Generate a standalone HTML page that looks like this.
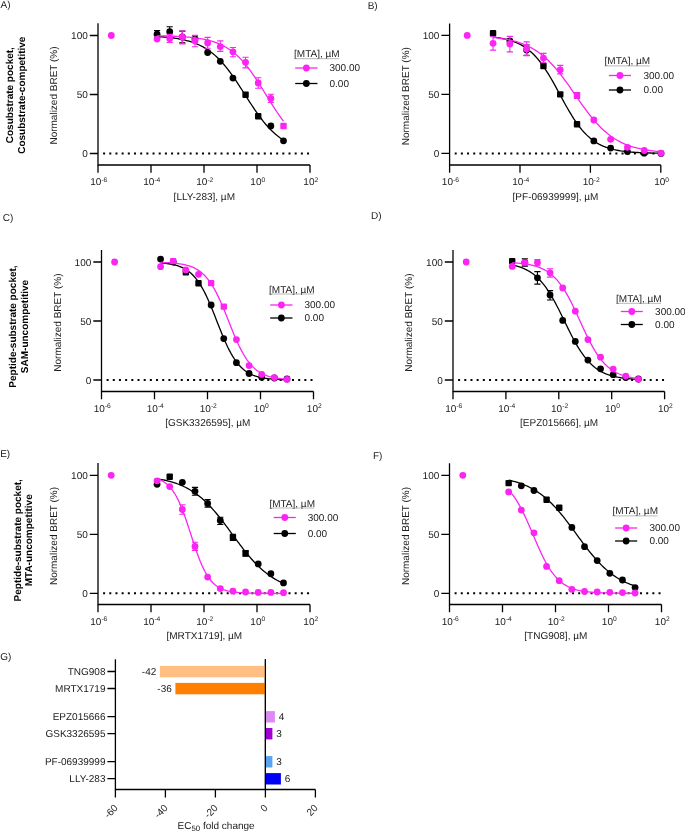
<!DOCTYPE html>
<html><head><meta charset="utf-8"><style>
html,body{margin:0;padding:0;background:#fff;}
svg{display:block;will-change:transform;text-rendering:geometricPrecision;}
.t{font-family:"Liberation Sans",sans-serif;font-size:10px;fill:#1a1a1a;}
.b{font-family:"Liberation Sans",sans-serif;font-size:10px;font-weight:bold;fill:#000;}
</style></head><body>
<svg width="685" height="831" viewBox="0 0 685 831">
<rect width="685" height="831" fill="#fff"/>
<path d="M98,23.2V165H310" fill="none" stroke="#000" stroke-width="1.3"/>
<text x="87.8" y="39.1" text-anchor="end" class="t">100</text>
<text x="87.8" y="98.1" text-anchor="end" class="t">50</text>
<text x="87.8" y="157.1" text-anchor="end" class="t">0</text>
<path d="M89.8,35.5H98M89.8,94.5H98M89.8,153.5H98" stroke="#000" stroke-width="1.3"/>
<text x="98.8" y="185.1" text-anchor="middle" class="t">10<tspan dy="-3.3" font-size="6.7">-6</tspan></text>
<text x="151.8" y="185.1" text-anchor="middle" class="t">10<tspan dy="-3.3" font-size="6.7">-4</tspan></text>
<text x="204.8" y="185.1" text-anchor="middle" class="t">10<tspan dy="-3.3" font-size="6.7">-2</tspan></text>
<text x="257.8" y="185.1" text-anchor="middle" class="t">10<tspan dy="-3.3" font-size="6.7">0</tspan></text>
<text x="310.8" y="185.1" text-anchor="middle" class="t">10<tspan dy="-3.3" font-size="6.7">2</tspan></text>
<path d="M98,165V172.7M151,165V172.7M204,165V172.7M257,165V172.7M310,165V172.7" stroke="#000" stroke-width="1.3"/>
<path d="M103.1,153.5H309.4" stroke="#000" stroke-width="2" stroke-dasharray="2 4.18"/>
<text x="204.3" y="199.9" text-anchor="middle" class="t">[LLY-283], µM</text>
<text transform="translate(57.3,95.5) rotate(-90)" text-anchor="middle" class="t">Normalized BRET (%)</text>
<circle cx="111.3" cy="35.5" r="3.4" fill="#fc24f2"/>
<path d="M157.06,36.58 L158.66,36.67 L160.26,36.78 L161.86,36.89 L163.46,37.01 L165.07,37.14 L166.67,37.29 L168.27,37.45 L169.87,37.62 L171.47,37.8 L173.07,38 L174.67,38.22 L176.27,38.46 L177.87,38.71 L179.47,38.99 L181.07,39.29 L182.67,39.62 L184.27,39.97 L185.87,40.35 L187.47,40.77 L189.07,41.21 L190.67,41.7 L192.27,42.22 L193.87,42.78 L195.47,43.38 L197.07,44.04 L198.68,44.74 L200.28,45.49 L201.88,46.3 L203.48,47.17 L205.08,48.1 L206.68,49.09 L208.28,50.15 L209.88,51.28 L211.48,52.49 L213.08,53.76 L214.68,55.12 L216.28,56.56 L217.88,58.08 L219.48,59.68 L221.08,61.36 L222.68,63.13 L224.28,64.97 L225.88,66.9 L227.48,68.91 L229.08,70.99 L230.68,73.14 L232.28,75.36 L233.89,77.65 L235.49,79.99 L237.09,82.38 L238.69,84.81 L240.29,87.28 L241.89,89.77 L243.49,92.28 L245.09,94.8 L246.69,97.31 L248.29,99.82 L249.89,102.31 L251.49,104.77 L253.09,107.19 L254.69,109.57 L256.29,111.9 L257.89,114.17 L259.49,116.37 L261.09,118.51 L262.69,120.57 L264.29,122.56 L265.89,124.47 L267.5,126.3 L269.1,128.05 L270.7,129.71 L272.3,131.29 L273.9,132.79 L275.5,134.21 L277.1,135.54 L278.7,136.81 L280.3,137.99 L281.9,139.11 L283.5,140.15" fill="none" stroke="#000" stroke-width="1.3"/>
<path d="M157.06,30.5V37.9M153.96,30.5H160.16M153.96,37.9H160.16M169.71,26.8V36.7M166.61,26.8H172.81M166.61,36.7H172.81M182.35,31.1V42.9M179.25,31.1H185.45M179.25,42.9H185.45" fill="none" stroke="#000" stroke-width="1.1"/>
<circle cx="157.06" cy="34.2" r="3.4" fill="#000"/>
<circle cx="169.71" cy="31.75" r="3.4" fill="#000"/>
<circle cx="182.35" cy="37" r="3.4" fill="#000"/>
<circle cx="194.99" cy="38.9" r="3.4" fill="#000"/>
<circle cx="207.64" cy="52.5" r="3.4" fill="#000"/>
<circle cx="220.28" cy="61.3" r="3.4" fill="#000"/>
<circle cx="232.93" cy="78.1" r="3.4" fill="#000"/>
<rect x="242.37" y="91.6" width="6.4" height="6.4" rx="1" fill="#000"/>
<rect x="255.01" y="113.1" width="6.4" height="6.4" rx="1" fill="#000"/>
<circle cx="270.86" cy="126" r="3.4" fill="#000"/>
<circle cx="283.5" cy="140.8" r="3.4" fill="#000"/>
<path d="M157.06,35.79 L158.66,35.82 L160.26,35.85 L161.86,35.88 L163.46,35.91 L165.07,35.95 L166.67,35.99 L168.27,36.04 L169.87,36.09 L171.47,36.14 L173.07,36.2 L174.67,36.27 L176.27,36.34 L177.87,36.41 L179.47,36.5 L181.07,36.59 L182.67,36.69 L184.27,36.8 L185.87,36.91 L187.47,37.04 L189.07,37.18 L190.67,37.34 L192.27,37.5 L193.87,37.68 L195.47,37.88 L197.07,38.1 L198.68,38.33 L200.28,38.59 L201.88,38.86 L203.48,39.16 L205.08,39.49 L206.68,39.85 L208.28,40.23 L209.88,40.65 L211.48,41.1 L213.08,41.59 L214.68,42.12 L216.28,42.7 L217.88,43.32 L219.48,43.99 L221.08,44.71 L222.68,45.49 L224.28,46.32 L225.88,47.22 L227.48,48.19 L229.08,49.22 L230.68,50.33 L232.28,51.52 L233.89,52.78 L235.49,54.12 L237.09,55.55 L238.69,57.06 L240.29,58.66 L241.89,60.35 L243.49,62.13 L245.09,63.99 L246.69,65.94 L248.29,67.98 L249.89,70.1 L251.49,72.3 L253.09,74.57 L254.69,76.91 L256.29,79.31 L257.89,81.77 L259.49,84.28 L261.09,86.82 L262.69,89.4 L264.29,91.99 L265.89,94.59 L267.5,97.2 L269.1,99.79 L270.7,102.36 L272.3,104.9 L273.9,107.41 L275.5,109.86 L277.1,112.26 L278.7,114.6 L280.3,116.86 L281.9,119.06 L283.5,121.17" fill="none" stroke="#fc24f2" stroke-width="1.3"/>
<path d="M169.71,34.4V42.4M166.61,34.4H172.81M166.61,42.4H172.81M182.35,31V43.9M179.25,31H185.45M179.25,43.9H185.45M194.99,35.4V46.8M191.89,35.4H198.09M191.89,46.8H198.09M207.64,37.4V48.3M204.54,37.4H210.74M204.54,48.3H210.74M220.28,40.9V51.4M217.18,40.9H223.38M217.18,51.4H223.38M232.93,47.5V56.7M229.83,47.5H236.03M229.83,56.7H236.03M245.57,57.3V67.9M242.47,57.3H248.67M242.47,67.9H248.67M258.21,77.7V88.2M255.11,77.7H261.31M255.11,88.2H261.31M270.86,94.3V102.5M267.76,94.3H273.96M267.76,102.5H273.96" fill="none" stroke="#fc24f2" stroke-width="1.1"/>
<circle cx="157.06" cy="39.1" r="3.4" fill="#fc24f2"/>
<circle cx="169.71" cy="38.4" r="3.4" fill="#fc24f2"/>
<circle cx="182.35" cy="37.1" r="3.4" fill="#fc24f2"/>
<circle cx="194.99" cy="40.9" r="3.4" fill="#fc24f2"/>
<circle cx="207.64" cy="42.9" r="3.4" fill="#fc24f2"/>
<circle cx="220.28" cy="46.6" r="3.4" fill="#fc24f2"/>
<circle cx="232.93" cy="51.8" r="3.4" fill="#fc24f2"/>
<circle cx="245.57" cy="62.3" r="3.4" fill="#fc24f2"/>
<circle cx="258.21" cy="83" r="3.4" fill="#fc24f2"/>
<circle cx="270.86" cy="98.4" r="3.4" fill="#fc24f2"/>
<rect x="280.3" y="122.8" width="6.4" height="6.4" rx="1" fill="#fc24f2"/>
<text x="294.1" y="57.2" class="t">[MTA], µM</text>
<path d="M294.1,58.7h45" stroke="#999" stroke-width="0.7"/>
<path d="M295.2,68H317.5" stroke="#fc24f2" stroke-width="1.3"/>
<circle cx="306.35" cy="68" r="3.4" fill="#fc24f2"/>
<text x="329.5" y="71.3" class="t">300.00</text>
<path d="M295.2,83.5H317.5" stroke="#000" stroke-width="1.3"/>
<circle cx="306.35" cy="83.5" r="3.4" fill="#000"/>
<text x="329.5" y="86.8" class="t">0.00</text>
<path d="M449.6,23.4V165H660.8" fill="none" stroke="#000" stroke-width="1.3"/>
<text x="439.4" y="39" text-anchor="end" class="t">100</text>
<text x="439.4" y="98" text-anchor="end" class="t">50</text>
<text x="439.4" y="157" text-anchor="end" class="t">0</text>
<path d="M441.4,35.4H449.6M441.4,94.4H449.6M441.4,153.4H449.6" stroke="#000" stroke-width="1.3"/>
<text x="450.4" y="185.1" text-anchor="middle" class="t">10<tspan dy="-3.3" font-size="6.7">-6</tspan></text>
<text x="520.8" y="185.1" text-anchor="middle" class="t">10<tspan dy="-3.3" font-size="6.7">-4</tspan></text>
<text x="591.2" y="185.1" text-anchor="middle" class="t">10<tspan dy="-3.3" font-size="6.7">-2</tspan></text>
<text x="661.6" y="185.1" text-anchor="middle" class="t">10<tspan dy="-3.3" font-size="6.7">0</tspan></text>
<path d="M449.6,165V172.7M520,165V172.7M590.4,165V172.7M660.8,165V172.7" stroke="#000" stroke-width="1.3"/>
<path d="M454.7,153.4H660" stroke="#000" stroke-width="2" stroke-dasharray="2 4.18"/>
<text x="555.5" y="199.9" text-anchor="middle" class="t">[PF-06939999], µM</text>
<text transform="translate(408.9,96.2) rotate(-90)" text-anchor="middle" class="t">Normalized BRET (%)</text>
<circle cx="467.2" cy="35.4" r="3.4" fill="#fc24f2"/>
<path d="M493.05,37.15 L495.18,37.39 L497.31,37.67 L499.43,37.99 L501.56,38.35 L503.68,38.76 L505.81,39.22 L507.93,39.75 L510.06,40.35 L512.19,41.02 L514.31,41.78 L516.44,42.63 L518.56,43.6 L520.69,44.68 L522.82,45.89 L524.94,47.23 L527.07,48.73 L529.19,50.4 L531.32,52.24 L533.45,54.26 L535.57,56.47 L537.7,58.89 L539.82,61.5 L541.95,64.32 L544.08,67.33 L546.2,70.54 L548.33,73.92 L550.45,77.47 L552.58,81.15 L554.7,84.94 L556.83,88.82 L558.96,92.75 L561.08,96.69 L563.21,100.61 L565.33,104.47 L567.46,108.25 L569.59,111.91 L571.71,115.43 L573.84,118.79 L575.96,121.96 L578.09,124.95 L580.22,127.73 L582.34,130.31 L584.47,132.7 L586.59,134.88 L588.72,136.87 L590.85,138.68 L592.97,140.32 L595.1,141.79 L597.22,143.12 L599.35,144.3 L601.47,145.36 L603.6,146.31 L605.73,147.15 L607.85,147.89 L609.98,148.56 L612.1,149.14 L614.23,149.66 L616.36,150.11 L618.48,150.51 L620.61,150.87 L622.73,151.18 L624.86,151.45 L626.99,151.69 L629.11,151.9 L631.24,152.09 L633.36,152.25 L635.49,152.39 L637.62,152.52 L639.74,152.63 L641.87,152.72 L643.99,152.81 L646.12,152.88 L648.24,152.95 L650.37,153 L652.5,153.05 L654.62,153.1 L656.75,153.13 L658.87,153.17 L661,153.2" fill="none" stroke="#000" stroke-width="1.3"/>
<path d="M526.64,45V55.2M523.54,45H529.74M523.54,55.2H529.74" fill="none" stroke="#000" stroke-width="1.1"/>
<rect x="489.85" y="30" width="6.4" height="6.4" rx="1" fill="#000"/>
<circle cx="509.85" cy="40.8" r="3.4" fill="#000"/>
<circle cx="526.64" cy="50.1" r="3.4" fill="#000"/>
<rect x="540.24" y="62.8" width="6.4" height="6.4" rx="1" fill="#000"/>
<rect x="557.03" y="91.2" width="6.4" height="6.4" rx="1" fill="#000"/>
<rect x="573.83" y="121.1" width="6.4" height="6.4" rx="1" fill="#000"/>
<circle cx="593.82" cy="140.9" r="3.4" fill="#000"/>
<circle cx="610.62" cy="148.1" r="3.4" fill="#000"/>
<circle cx="627.41" cy="151.6" r="3.4" fill="#000"/>
<circle cx="644.21" cy="153.2" r="3.4" fill="#000"/>
<circle cx="661" cy="153.4" r="3.4" fill="#000"/>
<path d="M493.05,37.49 L495.18,37.72 L497.31,37.96 L499.43,38.24 L501.56,38.54 L503.68,38.88 L505.81,39.25 L507.93,39.66 L510.06,40.11 L512.19,40.6 L514.31,41.14 L516.44,41.74 L518.56,42.4 L520.69,43.12 L522.82,43.9 L524.94,44.76 L527.07,45.7 L529.19,46.73 L531.32,47.84 L533.45,49.05 L535.57,50.36 L537.7,51.77 L539.82,53.3 L541.95,54.94 L544.08,56.7 L546.2,58.59 L548.33,60.59 L550.45,62.72 L552.58,64.97 L554.7,67.34 L556.83,69.83 L558.96,72.42 L561.08,75.12 L563.21,77.92 L565.33,80.79 L567.46,83.74 L569.59,86.74 L571.71,89.78 L573.84,92.85 L575.96,95.92 L578.09,98.99 L580.22,102.03 L582.34,105.04 L584.47,107.98 L586.59,110.86 L588.72,113.65 L590.85,116.35 L592.97,118.95 L595.1,121.44 L597.22,123.81 L599.35,126.06 L601.47,128.19 L603.6,130.2 L605.73,132.08 L607.85,133.84 L609.98,135.48 L612.1,137.01 L614.23,138.43 L616.36,139.74 L618.48,140.95 L620.61,142.06 L622.73,143.09 L624.86,144.03 L626.99,144.89 L629.11,145.68 L631.24,146.4 L633.36,147.05 L635.49,147.65 L637.62,148.2 L639.74,148.69 L641.87,149.14 L643.99,149.55 L646.12,149.92 L648.24,150.25 L650.37,150.56 L652.5,150.83 L654.62,151.08 L656.75,151.31 L658.87,151.51 L661,151.7" fill="none" stroke="#fc24f2" stroke-width="1.3"/>
<path d="M493.05,36.7V50.1M489.95,36.7H496.15M489.95,50.1H496.15M509.85,36.4V51.9M506.75,36.4H512.95M506.75,51.9H512.95M526.64,41.9V55.6M523.54,41.9H529.74M523.54,55.6H529.74M543.44,53.4V62.8M540.34,53.4H546.54M540.34,62.8H546.54M560.23,65.4V73.9M557.13,65.4H563.33M557.13,73.9H563.33M577.03,92.6V98.5M573.93,92.6H580.13M573.93,98.5H580.13" fill="none" stroke="#fc24f2" stroke-width="1.1"/>
<circle cx="493.05" cy="43.3" r="3.4" fill="#fc24f2"/>
<circle cx="509.85" cy="43.9" r="3.4" fill="#fc24f2"/>
<circle cx="526.64" cy="48.9" r="3.4" fill="#fc24f2"/>
<circle cx="543.44" cy="58.1" r="3.4" fill="#fc24f2"/>
<circle cx="560.23" cy="69.8" r="3.4" fill="#fc24f2"/>
<rect x="573.83" y="92.3" width="6.4" height="6.4" rx="1" fill="#fc24f2"/>
<circle cx="593.82" cy="120" r="3.4" fill="#fc24f2"/>
<circle cx="610.62" cy="139.3" r="3.4" fill="#fc24f2"/>
<circle cx="627.41" cy="147.3" r="3.4" fill="#fc24f2"/>
<circle cx="644.21" cy="150.5" r="3.4" fill="#fc24f2"/>
<circle cx="661" cy="153.2" r="3.4" fill="#fc24f2"/>
<text x="604.6" y="64.4" class="t">[MTA], µM</text>
<path d="M604.6,65.9h45" stroke="#999" stroke-width="0.7"/>
<path d="M608.9,75.5H631" stroke="#fc24f2" stroke-width="1.3"/>
<circle cx="619.95" cy="75.5" r="3.4" fill="#fc24f2"/>
<text x="643.5" y="78.8" class="t">300.00</text>
<path d="M608.9,90H631" stroke="#000" stroke-width="1.3"/>
<circle cx="619.95" cy="90" r="3.4" fill="#000"/>
<text x="643.5" y="93.3" class="t">0.00</text>
<path d="M101.5,250V391.5H313.5" fill="none" stroke="#000" stroke-width="1.3"/>
<text x="91.3" y="265.6" text-anchor="end" class="t">100</text>
<text x="91.3" y="324.6" text-anchor="end" class="t">50</text>
<text x="91.3" y="383.6" text-anchor="end" class="t">0</text>
<path d="M93.3,262H101.5M93.3,321H101.5M93.3,380H101.5" stroke="#000" stroke-width="1.3"/>
<text x="102.3" y="411.6" text-anchor="middle" class="t">10<tspan dy="-3.3" font-size="6.7">-6</tspan></text>
<text x="155.3" y="411.6" text-anchor="middle" class="t">10<tspan dy="-3.3" font-size="6.7">-4</tspan></text>
<text x="208.3" y="411.6" text-anchor="middle" class="t">10<tspan dy="-3.3" font-size="6.7">-2</tspan></text>
<text x="261.3" y="411.6" text-anchor="middle" class="t">10<tspan dy="-3.3" font-size="6.7">0</tspan></text>
<text x="314.3" y="411.6" text-anchor="middle" class="t">10<tspan dy="-3.3" font-size="6.7">2</tspan></text>
<path d="M101.5,391.5V399.2M154.5,391.5V399.2M207.5,391.5V399.2M260.5,391.5V399.2M313.5,391.5V399.2" stroke="#000" stroke-width="1.3"/>
<path d="M106.6,380H312.5" stroke="#000" stroke-width="2" stroke-dasharray="2 4.18"/>
<text x="207.8" y="426.4" text-anchor="middle" class="t">[GSK3326595], µM</text>
<text transform="translate(60.8,322.6) rotate(-90)" text-anchor="middle" class="t">Normalized BRET (%)</text>
<circle cx="114.6" cy="262" r="3.4" fill="#fc24f2"/>
<path d="M160.56,262.88 L162.16,263.01 L163.76,263.16 L165.36,263.33 L166.96,263.53 L168.57,263.76 L170.17,264.01 L171.77,264.31 L173.37,264.65 L174.97,265.03 L176.57,265.47 L178.17,265.97 L179.77,266.54 L181.37,267.19 L182.97,267.92 L184.57,268.76 L186.17,269.7 L187.77,270.76 L189.37,271.96 L190.97,273.3 L192.57,274.81 L194.17,276.49 L195.77,278.35 L197.37,280.41 L198.97,282.67 L200.57,285.15 L202.18,287.85 L203.78,290.77 L205.38,293.9 L206.98,297.24 L208.58,300.77 L210.18,304.48 L211.78,308.33 L213.38,312.3 L214.98,316.35 L216.58,320.44 L218.18,324.54 L219.78,328.61 L221.38,332.6 L222.98,336.49 L224.58,340.23 L226.18,343.81 L227.78,347.21 L229.38,350.4 L230.98,353.37 L232.58,356.13 L234.18,358.67 L235.78,361 L237.39,363.11 L238.99,365.03 L240.59,366.75 L242.19,368.3 L243.79,369.69 L245.39,370.92 L246.99,372.02 L248.59,373 L250.19,373.86 L251.79,374.62 L253.39,375.29 L254.99,375.88 L256.59,376.4 L258.19,376.86 L259.79,377.25 L261.39,377.6 L262.99,377.91 L264.59,378.18 L266.19,378.41 L267.79,378.61 L269.39,378.79 L271,378.95 L272.6,379.08 L274.2,379.2 L275.8,379.3 L277.4,379.39 L279,379.47 L280.6,379.54 L282.2,379.6 L283.8,379.65 L285.4,379.7 L287,379.74" fill="none" stroke="#000" stroke-width="1.3"/>
<circle cx="160.56" cy="259.1" r="3.4" fill="#000"/>
<circle cx="173.21" cy="262" r="3.4" fill="#000"/>
<rect x="182.65" y="269" width="6.4" height="6.4" rx="1" fill="#000"/>
<rect x="195.29" y="280.1" width="6.4" height="6.4" rx="1" fill="#000"/>
<circle cx="211.14" cy="305" r="3.4" fill="#000"/>
<circle cx="223.78" cy="338.6" r="3.4" fill="#000"/>
<circle cx="236.43" cy="362.7" r="3.4" fill="#000"/>
<circle cx="249.07" cy="373.5" r="3.4" fill="#000"/>
<circle cx="261.71" cy="377.3" r="3.4" fill="#000"/>
<circle cx="274.36" cy="378" r="3.4" fill="#000"/>
<circle cx="287" cy="379" r="3.4" fill="#000"/>
<path d="M160.56,262.35 L162.16,262.4 L163.76,262.46 L165.36,262.53 L166.96,262.61 L168.57,262.69 L170.17,262.79 L171.77,262.91 L173.37,263.04 L174.97,263.19 L176.57,263.37 L178.17,263.56 L179.77,263.79 L181.37,264.05 L182.97,264.34 L184.57,264.68 L186.17,265.06 L187.77,265.5 L189.37,265.99 L190.97,266.56 L192.57,267.2 L194.17,267.92 L195.77,268.74 L197.37,269.66 L198.97,270.7 L200.57,271.87 L202.18,273.18 L203.78,274.65 L205.38,276.28 L206.98,278.09 L208.58,280.08 L210.18,282.28 L211.78,284.68 L213.38,287.3 L214.98,290.12 L216.58,293.16 L218.18,296.4 L219.78,299.83 L221.38,303.43 L222.98,307.18 L224.58,311.05 L226.18,315.01 L227.78,319.03 L229.38,323.06 L230.98,327.08 L232.58,331.04 L234.18,334.91 L235.78,338.66 L237.39,342.25 L238.99,345.68 L240.59,348.91 L242.19,351.94 L243.79,354.76 L245.39,357.37 L246.99,359.77 L248.59,361.96 L250.19,363.96 L251.79,365.76 L253.39,367.39 L254.99,368.85 L256.59,370.16 L258.19,371.32 L259.79,372.36 L261.39,373.28 L262.99,374.1 L264.59,374.82 L266.19,375.46 L267.79,376.02 L269.39,376.51 L271,376.95 L272.6,377.33 L274.2,377.66 L275.8,377.96 L277.4,378.21 L279,378.44 L280.6,378.64 L282.2,378.81 L283.8,378.96 L285.4,379.09 L287,379.21" fill="none" stroke="#fc24f2" stroke-width="1.3"/>
<circle cx="160.56" cy="266.7" r="3.4" fill="#fc24f2"/>
<rect x="170.01" y="257.9" width="6.4" height="6.4" rx="1" fill="#fc24f2"/>
<circle cx="185.85" cy="269.9" r="3.4" fill="#fc24f2"/>
<circle cx="198.49" cy="274.3" r="3.4" fill="#fc24f2"/>
<rect x="207.94" y="279.9" width="6.4" height="6.4" rx="1" fill="#fc24f2"/>
<rect x="220.58" y="303.4" width="6.4" height="6.4" rx="1" fill="#fc24f2"/>
<circle cx="236.43" cy="339.6" r="3.4" fill="#fc24f2"/>
<circle cx="249.07" cy="365.6" r="3.4" fill="#fc24f2"/>
<circle cx="261.71" cy="374.4" r="3.4" fill="#fc24f2"/>
<circle cx="274.36" cy="377.6" r="3.4" fill="#fc24f2"/>
<circle cx="287" cy="379.3" r="3.4" fill="#fc24f2"/>
<text x="269.1" y="292.5" class="t">[MTA], µM</text>
<path d="M269.1,294h45" stroke="#999" stroke-width="0.7"/>
<path d="M270.2,305H292.5" stroke="#fc24f2" stroke-width="1.3"/>
<circle cx="281.35" cy="305" r="3.4" fill="#fc24f2"/>
<text x="304.5" y="308.3" class="t">300.00</text>
<path d="M270.2,318H292.5" stroke="#000" stroke-width="1.3"/>
<circle cx="281.35" cy="318" r="3.4" fill="#000"/>
<text x="304.5" y="321.3" class="t">0.00</text>
<path d="M453,250V391.5H664.6" fill="none" stroke="#000" stroke-width="1.3"/>
<text x="442.8" y="265.6" text-anchor="end" class="t">100</text>
<text x="442.8" y="324.6" text-anchor="end" class="t">50</text>
<text x="442.8" y="383.6" text-anchor="end" class="t">0</text>
<path d="M444.8,262H453M444.8,321H453M444.8,380H453" stroke="#000" stroke-width="1.3"/>
<text x="453.8" y="411.6" text-anchor="middle" class="t">10<tspan dy="-3.3" font-size="6.7">-6</tspan></text>
<text x="506.7" y="411.6" text-anchor="middle" class="t">10<tspan dy="-3.3" font-size="6.7">-4</tspan></text>
<text x="559.6" y="411.6" text-anchor="middle" class="t">10<tspan dy="-3.3" font-size="6.7">-2</tspan></text>
<text x="612.5" y="411.6" text-anchor="middle" class="t">10<tspan dy="-3.3" font-size="6.7">0</tspan></text>
<text x="665.4" y="411.6" text-anchor="middle" class="t">10<tspan dy="-3.3" font-size="6.7">2</tspan></text>
<path d="M453,391.5V399.2M505.9,391.5V399.2M558.8,391.5V399.2M611.7,391.5V399.2M664.6,391.5V399.2" stroke="#000" stroke-width="1.3"/>
<path d="M458.1,380H664.3" stroke="#000" stroke-width="2" stroke-dasharray="2 4.18"/>
<text x="559.1" y="426.4" text-anchor="middle" class="t">[EPZ015666], µM</text>
<text transform="translate(412.3,322.6) rotate(-90)" text-anchor="middle" class="t">Normalized BRET (%)</text>
<circle cx="466.2" cy="262" r="3.4" fill="#fc24f2"/>
<path d="M512.2,265.01 L513.8,265.35 L515.4,265.74 L516.99,266.16 L518.59,266.63 L520.19,267.15 L521.79,267.73 L523.38,268.37 L524.98,269.08 L526.58,269.86 L528.18,270.72 L529.77,271.66 L531.37,272.7 L532.97,273.83 L534.57,275.07 L536.16,276.43 L537.76,277.9 L539.36,279.5 L540.96,281.23 L542.55,283.09 L544.15,285.09 L545.75,287.23 L547.35,289.51 L548.94,291.93 L550.54,294.49 L552.14,297.18 L553.74,300 L555.33,302.92 L556.93,305.95 L558.53,309.07 L560.12,312.26 L561.72,315.5 L563.32,318.77 L564.92,322.06 L566.51,325.34 L568.11,328.59 L569.71,331.8 L571.31,334.95 L572.9,338.01 L574.5,340.97 L576.1,343.83 L577.7,346.56 L579.29,349.17 L580.89,351.64 L582.49,353.97 L584.09,356.16 L585.68,358.21 L587.28,360.13 L588.88,361.9 L590.48,363.54 L592.07,365.06 L593.67,366.46 L595.27,367.74 L596.87,368.91 L598.46,369.98 L600.06,370.96 L601.66,371.84 L603.26,372.65 L604.85,373.38 L606.45,374.05 L608.05,374.65 L609.65,375.19 L611.24,375.68 L612.84,376.12 L614.44,376.52 L616.04,376.87 L617.63,377.2 L619.23,377.48 L620.83,377.75 L622.43,377.98 L624.02,378.19 L625.62,378.38 L627.22,378.55 L628.82,378.7 L630.41,378.83 L632.01,378.96 L633.61,379.07 L635.21,379.16 L636.8,379.25 L638.4,379.33" fill="none" stroke="#000" stroke-width="1.3"/>
<path d="M524.82,258.8V266.1M521.72,258.8H527.92M521.72,266.1H527.92M537.44,271.6V284.1M534.34,271.6H540.54M534.34,284.1H540.54M550.06,290.6V300M546.96,290.6H553.16M546.96,300H553.16" fill="none" stroke="#000" stroke-width="1.1"/>
<rect x="509" y="257.9" width="6.4" height="6.4" rx="1" fill="#000"/>
<circle cx="524.82" cy="262.5" r="3.4" fill="#000"/>
<circle cx="537.44" cy="277.8" r="3.4" fill="#000"/>
<circle cx="550.06" cy="295" r="3.4" fill="#000"/>
<circle cx="562.68" cy="320.4" r="3.4" fill="#000"/>
<circle cx="575.3" cy="341.4" r="3.4" fill="#000"/>
<circle cx="587.92" cy="360.1" r="3.4" fill="#000"/>
<circle cx="600.54" cy="368.8" r="3.4" fill="#000"/>
<circle cx="613.16" cy="374.7" r="3.4" fill="#000"/>
<circle cx="625.78" cy="377.6" r="3.4" fill="#000"/>
<circle cx="638.4" cy="379" r="3.4" fill="#000"/>
<path d="M512.2,262.75 L513.8,262.84 L515.4,262.95 L516.99,263.07 L518.59,263.2 L520.19,263.35 L521.79,263.52 L523.38,263.71 L524.98,263.92 L526.58,264.16 L528.18,264.43 L529.77,264.73 L531.37,265.07 L532.97,265.44 L534.57,265.86 L536.16,266.33 L537.76,266.86 L539.36,267.44 L540.96,268.1 L542.55,268.82 L544.15,269.63 L545.75,270.52 L547.35,271.51 L548.94,272.61 L550.54,273.81 L552.14,275.14 L553.74,276.6 L555.33,278.19 L556.93,279.92 L558.53,281.81 L560.12,283.85 L561.72,286.05 L563.32,288.41 L564.92,290.93 L566.51,293.61 L568.11,296.44 L569.71,299.41 L571.31,302.51 L572.9,305.74 L574.5,309.06 L576.1,312.46 L577.7,315.93 L579.29,319.43 L580.89,322.94 L582.49,326.43 L584.09,329.89 L585.68,333.29 L587.28,336.6 L588.88,339.81 L590.48,342.91 L592.07,345.86 L593.67,348.68 L595.27,351.34 L596.87,353.84 L598.46,356.19 L600.06,358.37 L601.66,360.39 L603.26,362.26 L604.85,363.98 L606.45,365.56 L608.05,367 L609.65,368.32 L611.24,369.51 L612.84,370.59 L614.44,371.57 L616.04,372.46 L617.63,373.26 L619.23,373.98 L620.83,374.62 L622.43,375.2 L624.02,375.72 L625.62,376.18 L627.22,376.6 L628.82,376.97 L630.41,377.3 L632.01,377.6 L633.61,377.86 L635.21,378.1 L636.8,378.31 L638.4,378.5" fill="none" stroke="#fc24f2" stroke-width="1.3"/>
<path d="M537.44,259.6V265.8M534.34,259.6H540.54M534.34,265.8H540.54M550.06,268.7V277.1M546.96,268.7H553.16M546.96,277.1H553.16" fill="none" stroke="#fc24f2" stroke-width="1.1"/>
<circle cx="512.2" cy="266.4" r="3.4" fill="#fc24f2"/>
<circle cx="524.82" cy="262.6" r="3.4" fill="#fc24f2"/>
<circle cx="537.44" cy="262.6" r="3.4" fill="#fc24f2"/>
<circle cx="550.06" cy="272.8" r="3.4" fill="#fc24f2"/>
<circle cx="562.68" cy="288" r="3.4" fill="#fc24f2"/>
<circle cx="575.3" cy="311.2" r="3.4" fill="#fc24f2"/>
<circle cx="587.92" cy="339.6" r="3.4" fill="#fc24f2"/>
<circle cx="600.54" cy="357.2" r="3.4" fill="#fc24f2"/>
<circle cx="613.16" cy="369.1" r="3.4" fill="#fc24f2"/>
<circle cx="625.78" cy="376.1" r="3.4" fill="#fc24f2"/>
<circle cx="638.4" cy="379.3" r="3.4" fill="#fc24f2"/>
<text x="616.1" y="301.8" class="t">[MTA], µM</text>
<path d="M616.1,303.3h45" stroke="#999" stroke-width="0.7"/>
<path d="M620.8,311.5H642.8" stroke="#fc24f2" stroke-width="1.3"/>
<circle cx="631.8" cy="311.5" r="3.4" fill="#fc24f2"/>
<text x="655.1" y="314.8" class="t">300.00</text>
<path d="M620.8,324.5H642.8" stroke="#000" stroke-width="1.3"/>
<circle cx="631.8" cy="324.5" r="3.4" fill="#000"/>
<text x="655.1" y="327.8" class="t">0.00</text>
<path d="M98,463.1V604.5H310" fill="none" stroke="#000" stroke-width="1.3"/>
<text x="87.8" y="478.9" text-anchor="end" class="t">100</text>
<text x="87.8" y="537.9" text-anchor="end" class="t">50</text>
<text x="87.8" y="596.9" text-anchor="end" class="t">0</text>
<path d="M89.8,475.3H98M89.8,534.3H98M89.8,593.3H98" stroke="#000" stroke-width="1.3"/>
<text x="98.8" y="624.6" text-anchor="middle" class="t">10<tspan dy="-3.3" font-size="6.7">-6</tspan></text>
<text x="151.8" y="624.6" text-anchor="middle" class="t">10<tspan dy="-3.3" font-size="6.7">-4</tspan></text>
<text x="204.8" y="624.6" text-anchor="middle" class="t">10<tspan dy="-3.3" font-size="6.7">-2</tspan></text>
<text x="257.8" y="624.6" text-anchor="middle" class="t">10<tspan dy="-3.3" font-size="6.7">0</tspan></text>
<text x="310.8" y="624.6" text-anchor="middle" class="t">10<tspan dy="-3.3" font-size="6.7">2</tspan></text>
<path d="M98,604.5V612.2M151,604.5V612.2M204,604.5V612.2M257,604.5V612.2M310,604.5V612.2" stroke="#000" stroke-width="1.3"/>
<path d="M103.1,593.3H309.8" stroke="#000" stroke-width="2" stroke-dasharray="2 4.18"/>
<text x="204.3" y="639.4" text-anchor="middle" class="t">[MRTX1719], µM</text>
<text transform="translate(57.3,536) rotate(-90)" text-anchor="middle" class="t">Normalized BRET (%)</text>
<circle cx="111.2" cy="475.3" r="3.4" fill="#fc24f2"/>
<path d="M157.06,478.77 L158.66,479.03 L160.26,479.3 L161.86,479.6 L163.46,479.92 L165.07,480.26 L166.67,480.63 L168.27,481.02 L169.87,481.44 L171.47,481.89 L173.07,482.37 L174.67,482.88 L176.27,483.42 L177.87,484 L179.47,484.62 L181.07,485.28 L182.67,485.98 L184.27,486.73 L185.87,487.52 L187.47,488.36 L189.07,489.25 L190.67,490.19 L192.27,491.18 L193.87,492.23 L195.47,493.34 L197.07,494.51 L198.68,495.73 L200.28,497.02 L201.88,498.37 L203.48,499.78 L205.08,501.26 L206.68,502.79 L208.28,504.39 L209.88,506.06 L211.48,507.78 L213.08,509.56 L214.68,511.39 L216.28,513.28 L217.88,515.23 L219.48,517.21 L221.08,519.25 L222.68,521.32 L224.28,523.42 L225.88,525.55 L227.48,527.71 L229.08,529.89 L230.68,532.07 L232.28,534.27 L233.89,536.46 L235.49,538.65 L237.09,540.83 L238.69,542.98 L240.29,545.12 L241.89,547.22 L243.49,549.3 L245.09,551.33 L246.69,553.32 L248.29,555.26 L249.89,557.15 L251.49,558.99 L253.09,560.77 L254.69,562.5 L256.29,564.16 L257.89,565.76 L259.49,567.3 L261.09,568.78 L262.69,570.19 L264.29,571.54 L265.89,572.83 L267.5,574.06 L269.1,575.23 L270.7,576.34 L272.3,577.39 L273.9,578.39 L275.5,579.33 L277.1,580.22 L278.7,581.06 L280.3,581.85 L281.9,582.6 L283.5,583.3" fill="none" stroke="#000" stroke-width="1.3"/>
<path d="M194.99,487.4V495.2M191.89,487.4H198.09M191.89,495.2H198.09M207.64,499.5V507.1M204.54,499.5H210.74M204.54,507.1H210.74M220.28,517.3V524.5M217.18,517.3H223.38M217.18,524.5H223.38M232.93,534.2V540.5M229.83,534.2H236.03M229.83,540.5H236.03M245.57,550.5V556.1M242.47,550.5H248.67M242.47,556.1H248.67" fill="none" stroke="#000" stroke-width="1.1"/>
<circle cx="157.06" cy="484.3" r="3.4" fill="#000"/>
<rect x="166.51" y="473.5" width="6.4" height="6.4" rx="1" fill="#000"/>
<circle cx="182.35" cy="482.3" r="3.4" fill="#000"/>
<circle cx="194.99" cy="491.3" r="3.4" fill="#000"/>
<circle cx="207.64" cy="503.5" r="3.4" fill="#000"/>
<circle cx="220.28" cy="520.5" r="3.4" fill="#000"/>
<rect x="229.73" y="534" width="6.4" height="6.4" rx="1" fill="#000"/>
<rect x="242.37" y="550.2" width="6.4" height="6.4" rx="1" fill="#000"/>
<circle cx="258.21" cy="563.9" r="3.4" fill="#000"/>
<circle cx="270.86" cy="573.7" r="3.4" fill="#000"/>
<circle cx="283.5" cy="582.9" r="3.4" fill="#000"/>
<path d="M157.06,478.59 L158.66,479.17 L160.26,479.85 L161.86,480.65 L163.46,481.58 L165.07,482.66 L166.67,483.91 L168.27,485.35 L169.87,487.02 L171.47,488.92 L173.07,491.08 L174.67,493.52 L176.27,496.27 L177.87,499.33 L179.47,502.72 L181.07,506.42 L182.67,510.43 L184.27,514.72 L185.87,519.25 L187.47,523.98 L189.07,528.86 L190.67,533.81 L192.27,538.77 L193.87,543.66 L195.47,548.43 L197.07,553.01 L198.68,557.35 L200.28,561.41 L201.88,565.18 L203.48,568.62 L205.08,571.75 L206.68,574.56 L208.28,577.06 L209.88,579.28 L211.48,581.23 L213.08,582.94 L214.68,584.42 L216.28,585.71 L217.88,586.82 L219.48,587.78 L221.08,588.6 L222.68,589.3 L224.28,589.9 L225.88,590.42 L227.48,590.85 L229.08,591.23 L230.68,591.54 L232.28,591.81 L233.89,592.04 L235.49,592.23 L237.09,592.4 L238.69,592.54 L240.29,592.65 L241.89,592.75 L243.49,592.84 L245.09,592.91 L246.69,592.97 L248.29,593.02 L249.89,593.06 L251.49,593.1 L253.09,593.13 L254.69,593.16 L256.29,593.18 L257.89,593.2 L259.49,593.21 L261.09,593.23 L262.69,593.24 L264.29,593.25 L265.89,593.26 L267.5,593.26 L269.1,593.27 L270.7,593.27 L272.3,593.28 L273.9,593.28 L275.5,593.28 L277.1,593.29 L278.7,593.29 L280.3,593.29 L281.9,593.29 L283.5,593.29" fill="none" stroke="#fc24f2" stroke-width="1.3"/>
<path d="M182.35,504.7V514.3M179.25,504.7H185.45M179.25,514.3H185.45M194.99,542.3V550.4M191.89,542.3H198.09M191.89,550.4H198.09" fill="none" stroke="#fc24f2" stroke-width="1.1"/>
<circle cx="157.06" cy="480.8" r="3.4" fill="#fc24f2"/>
<circle cx="169.71" cy="486.6" r="3.4" fill="#fc24f2"/>
<circle cx="182.35" cy="509.5" r="3.4" fill="#fc24f2"/>
<circle cx="194.99" cy="546.4" r="3.4" fill="#fc24f2"/>
<circle cx="207.64" cy="577.1" r="3.4" fill="#fc24f2"/>
<circle cx="220.28" cy="588.6" r="3.4" fill="#fc24f2"/>
<circle cx="232.93" cy="591.2" r="3.4" fill="#fc24f2"/>
<circle cx="245.57" cy="592" r="3.4" fill="#fc24f2"/>
<circle cx="258.21" cy="592.4" r="3.4" fill="#fc24f2"/>
<circle cx="270.86" cy="592.4" r="3.4" fill="#fc24f2"/>
<circle cx="283.5" cy="592.7" r="3.4" fill="#fc24f2"/>
<text x="269.4" y="506.5" class="t">[MTA], µM</text>
<path d="M269.4,508h45" stroke="#999" stroke-width="0.7"/>
<path d="M273.7,517.5H295.8" stroke="#fc24f2" stroke-width="1.3"/>
<circle cx="284.75" cy="517.5" r="3.4" fill="#fc24f2"/>
<text x="307.7" y="520.8" class="t">300.00</text>
<path d="M273.7,533.5H295.8" stroke="#000" stroke-width="1.3"/>
<circle cx="284.75" cy="533.5" r="3.4" fill="#000"/>
<text x="307.7" y="536.8" class="t">0.00</text>
<path d="M449.5,463.2V604.5H661.5" fill="none" stroke="#000" stroke-width="1.3"/>
<text x="439.3" y="478.9" text-anchor="end" class="t">100</text>
<text x="439.3" y="537.9" text-anchor="end" class="t">50</text>
<text x="439.3" y="596.9" text-anchor="end" class="t">0</text>
<path d="M441.3,475.3H449.5M441.3,534.3H449.5M441.3,593.3H449.5" stroke="#000" stroke-width="1.3"/>
<text x="450.3" y="624.6" text-anchor="middle" class="t">10<tspan dy="-3.3" font-size="6.7">-6</tspan></text>
<text x="503.3" y="624.6" text-anchor="middle" class="t">10<tspan dy="-3.3" font-size="6.7">-4</tspan></text>
<text x="556.3" y="624.6" text-anchor="middle" class="t">10<tspan dy="-3.3" font-size="6.7">-2</tspan></text>
<text x="609.3" y="624.6" text-anchor="middle" class="t">10<tspan dy="-3.3" font-size="6.7">0</tspan></text>
<text x="662.3" y="624.6" text-anchor="middle" class="t">10<tspan dy="-3.3" font-size="6.7">2</tspan></text>
<path d="M449.5,604.5V612.2M502.5,604.5V612.2M555.5,604.5V612.2M608.5,604.5V612.2M661.5,604.5V612.2" stroke="#000" stroke-width="1.3"/>
<path d="M454.6,593.3H661" stroke="#000" stroke-width="2" stroke-dasharray="2 4.18"/>
<text x="555.8" y="639.4" text-anchor="middle" class="t">[TNG908], µM</text>
<text transform="translate(408.8,536) rotate(-90)" text-anchor="middle" class="t">Normalized BRET (%)</text>
<circle cx="462.8" cy="475.3" r="3.4" fill="#fc24f2"/>
<path d="M508.66,480.14 L510.26,480.5 L511.86,480.88 L513.46,481.29 L515.06,481.73 L516.67,482.19 L518.27,482.69 L519.87,483.23 L521.47,483.79 L523.07,484.4 L524.67,485.04 L526.27,485.73 L527.87,486.46 L529.47,487.23 L531.07,488.05 L532.67,488.92 L534.27,489.84 L535.87,490.82 L537.47,491.85 L539.07,492.93 L540.67,494.08 L542.27,495.28 L543.87,496.54 L545.47,497.87 L547.07,499.26 L548.67,500.71 L550.28,502.22 L551.88,503.79 L553.48,505.43 L555.08,507.13 L556.68,508.89 L558.28,510.7 L559.88,512.57 L561.48,514.49 L563.08,516.46 L564.68,518.47 L566.28,520.53 L567.88,522.62 L569.48,524.74 L571.08,526.88 L572.68,529.05 L574.28,531.23 L575.88,533.42 L577.48,535.62 L579.08,537.8 L580.68,539.98 L582.28,542.15 L583.88,544.29 L585.49,546.4 L587.09,548.49 L588.69,550.53 L590.29,552.54 L591.89,554.5 L593.49,556.41 L595.09,558.27 L596.69,560.07 L598.29,561.81 L599.89,563.5 L601.49,565.13 L603.09,566.69 L604.69,568.19 L606.29,569.63 L607.89,571 L609.49,572.31 L611.09,573.57 L612.69,574.76 L614.29,575.89 L615.89,576.96 L617.49,577.98 L619.1,578.95 L620.7,579.86 L622.3,580.72 L623.9,581.53 L625.5,582.29 L627.1,583.01 L628.7,583.69 L630.3,584.33 L631.9,584.92 L633.5,585.48 L635.1,586.01" fill="none" stroke="#000" stroke-width="1.3"/>
<rect x="505.46" y="479.9" width="6.4" height="6.4" rx="1" fill="#000"/>
<circle cx="521.31" cy="485.8" r="3.4" fill="#000"/>
<circle cx="533.95" cy="490.5" r="3.4" fill="#000"/>
<rect x="543.39" y="496.6" width="6.4" height="6.4" rx="1" fill="#000"/>
<rect x="556.04" y="504.6" width="6.4" height="6.4" rx="1" fill="#000"/>
<circle cx="571.88" cy="527.4" r="3.4" fill="#000"/>
<circle cx="584.53" cy="546.7" r="3.4" fill="#000"/>
<circle cx="597.17" cy="560.6" r="3.4" fill="#000"/>
<circle cx="609.81" cy="573.3" r="3.4" fill="#000"/>
<circle cx="622.46" cy="580" r="3.4" fill="#000"/>
<circle cx="635.1" cy="587.6" r="3.4" fill="#000"/>
<path d="M508.66,490.2 L510.26,491.94 L511.86,493.86 L513.46,495.94 L515.06,498.21 L516.67,500.67 L518.27,503.31 L519.87,506.13 L521.47,509.13 L523.07,512.29 L524.67,515.62 L526.27,519.07 L527.87,522.65 L529.47,526.32 L531.07,530.05 L532.67,533.81 L534.27,537.58 L535.87,541.32 L537.47,545.01 L539.07,548.61 L540.67,552.1 L542.27,555.46 L543.87,558.67 L545.47,561.71 L547.07,564.58 L548.67,567.27 L550.28,569.77 L551.88,572.08 L553.48,574.22 L555.08,576.18 L556.68,577.96 L558.28,579.59 L559.88,581.07 L561.48,582.4 L563.08,583.6 L564.68,584.68 L566.28,585.65 L567.88,586.51 L569.48,587.29 L571.08,587.98 L572.68,588.59 L574.28,589.13 L575.88,589.62 L577.48,590.05 L579.08,590.43 L580.68,590.77 L582.28,591.06 L583.88,591.33 L585.49,591.56 L587.09,591.77 L588.69,591.95 L590.29,592.11 L591.89,592.25 L593.49,592.38 L595.09,592.49 L596.69,592.58 L598.29,592.67 L599.89,592.74 L601.49,592.81 L603.09,592.87 L604.69,592.92 L606.29,592.97 L607.89,593.01 L609.49,593.04 L611.09,593.07 L612.69,593.1 L614.29,593.12 L615.89,593.14 L617.49,593.16 L619.1,593.18 L620.7,593.19 L622.3,593.21 L623.9,593.22 L625.5,593.23 L627.1,593.24 L628.7,593.24 L630.3,593.25 L631.9,593.26 L633.5,593.26 L635.1,593.27" fill="none" stroke="#fc24f2" stroke-width="1.3"/>
<circle cx="508.66" cy="491.9" r="3.4" fill="#fc24f2"/>
<circle cx="521.31" cy="510.1" r="3.4" fill="#fc24f2"/>
<circle cx="533.95" cy="532.8" r="3.4" fill="#fc24f2"/>
<circle cx="546.59" cy="566.4" r="3.4" fill="#fc24f2"/>
<circle cx="559.24" cy="580.7" r="3.4" fill="#fc24f2"/>
<circle cx="571.88" cy="589.3" r="3.4" fill="#fc24f2"/>
<circle cx="584.53" cy="591.5" r="3.4" fill="#fc24f2"/>
<circle cx="597.17" cy="592" r="3.4" fill="#fc24f2"/>
<circle cx="609.81" cy="592.3" r="3.4" fill="#fc24f2"/>
<circle cx="622.46" cy="592.6" r="3.4" fill="#fc24f2"/>
<circle cx="635.1" cy="593" r="3.4" fill="#fc24f2"/>
<text x="612.4" y="514.4" class="t">[MTA], µM</text>
<path d="M612.4,515.9h45" stroke="#999" stroke-width="0.7"/>
<path d="M615.1,528H637.2" stroke="#fc24f2" stroke-width="1.3"/>
<circle cx="626.15" cy="528" r="3.4" fill="#fc24f2"/>
<text x="649.4" y="531.3" class="t">300.00</text>
<path d="M615.1,541H637.2" stroke="#000" stroke-width="1.3"/>
<circle cx="626.15" cy="541" r="3.4" fill="#000"/>
<text x="649.4" y="544.3" class="t">0.00</text>
<text x="0.5" y="7.6" class="t">A)</text>
<text x="367.7" y="9.05" class="t">B)</text>
<text x="2.7" y="221.3" class="t">C)</text>
<text x="371.1" y="219" class="t">D)</text>
<text x="0.2" y="456.9" class="t">E)</text>
<text x="373" y="458.8" class="t">F)</text>
<text x="0.3" y="659.6" class="t">G)</text>
<text transform="translate(13.2,95.2) rotate(-90)" text-anchor="middle" class="b">Cosubstrate pocket,</text><text transform="translate(25.3,95.2) rotate(-90)" text-anchor="middle" class="b">Cosubstrate-competitive</text>
<text transform="translate(16,326.5) rotate(-90)" text-anchor="middle" class="b">Peptide-substrate pocket,</text><text transform="translate(28.3,326.5) rotate(-90)" text-anchor="middle" class="b">SAM-uncompetitive</text>
<text transform="translate(20.5,540.3) rotate(-90)" text-anchor="middle" class="b">Peptide-substrate pocket,</text><text transform="translate(32.3,540.3) rotate(-90)" text-anchor="middle" class="b">MTA-uncompetitive</text>
<path d="M115.4,659.2V789.5H315.4" fill="none" stroke="#000" stroke-width="1.3"/>
<path d="M265.4,659.2V789.5" stroke="#000" stroke-width="1.2"/>
<text transform="translate(118.5,808.6) rotate(-45)" text-anchor="end" class="t">-60</text>
<text transform="translate(168.5,808.6) rotate(-45)" text-anchor="end" class="t">-40</text>
<text transform="translate(218.5,808.6) rotate(-45)" text-anchor="end" class="t">-20</text>
<text transform="translate(268.5,808.6) rotate(-45)" text-anchor="end" class="t">0</text>
<text transform="translate(318.5,808.6) rotate(-45)" text-anchor="end" class="t">20</text>
<text x="105.5" y="675.1" text-anchor="end" class="t">TNG908</text>
<rect x="159.9" y="665.9" width="105.5" height="11.4" fill="#ffbe82"/>
<text x="156.3" y="674.7" text-anchor="end" class="t">-42</text>
<text x="105.5" y="692.1" text-anchor="end" class="t">MRTX1719</text>
<rect x="175.4" y="682.9" width="90" height="11.4" fill="#ff8000"/>
<text x="171.8" y="691.7" text-anchor="end" class="t">-36</text>
<text x="105.5" y="720.3" text-anchor="end" class="t">EPZ015666</text>
<rect x="265.4" y="711.1" width="9.5" height="11.4" fill="#dc8af4"/>
<text x="278.7" y="719.9" class="t">4</text>
<text x="105.5" y="737.2" text-anchor="end" class="t">GSK3326595</text>
<rect x="265.4" y="728" width="7" height="11.4" fill="#a000d6"/>
<text x="276.2" y="736.8" class="t">3</text>
<text x="105.5" y="765.3" text-anchor="end" class="t">PF-06939999</text>
<rect x="265.4" y="756.1" width="7" height="11.4" fill="#5aa2f2"/>
<text x="276.2" y="764.9" class="t">3</text>
<text x="105.5" y="782.3" text-anchor="end" class="t">LLY-283</text>
<rect x="265.4" y="773.1" width="15.5" height="11.4" fill="#0000f5"/>
<text x="284.7" y="781.9" class="t">6</text>
<path d="M115.4,789.5V797.5M165.4,789.5V797.5M215.4,789.5V797.5M265.4,789.5V797.5M315.4,789.5V797.5M107.4,671.5H115.4M107.4,688.5H115.4M107.4,716.7H115.4M107.4,733.6H115.4M107.4,761.7H115.4M107.4,778.7H115.4" stroke="#000" stroke-width="1.3"/>
<path d="M265.4,659.2V789.5" stroke="#000" stroke-width="1.2"/>
<text x="177.6" y="828.5" class="t">EC<tspan dy="2.2" font-size="7.8">50</tspan><tspan dy="-2.2"> fold change</tspan></text>
</svg>
</body></html>
